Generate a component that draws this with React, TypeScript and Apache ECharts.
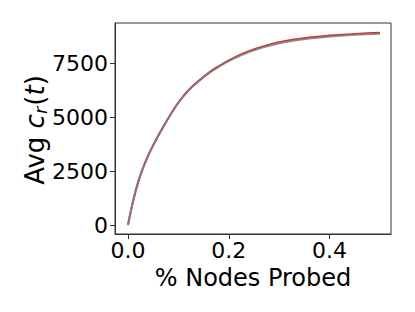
import React, { useEffect, useRef } from "react";
import * as echarts from "echarts";

const xValues = [0, 0.01, 0.02, 0.03, 0.04, 0.05, 0.06, 0.07, 0.08, 0.09, 0.1, 0.12, 0.14, 0.16, 0.18, 0.2, 0.22, 0.24, 0.27, 0.3, 0.33, 0.36, 0.4, 0.45, 0.5];
const redValues = [0, 1100, 1980, 2660, 3220, 3700, 4150, 4560, 4960, 5340, 5690, 6260, 6690, 7070, 7380, 7650, 7880, 8080, 8310, 8490, 8620, 8715, 8800, 8880, 8935];
const grayValues = [0, 1100, 1980, 2660, 3220, 3700, 4150, 4560, 4960, 5335, 5680, 6245, 6670, 7045, 7350, 7615, 7840, 8040, 8265, 8445, 8575, 8670, 8755, 8835, 8885];
const xTicks = [0, 0.2, 0.4];
const yTicks = [0, 2500, 5000, 7500];

const FONT = "DejaVu Sans";

export default function App() {
  const ref = useRef<HTMLDivElement>(null);
  useEffect(() => {
    if (!ref.current) return;
    const chart = echarts.init(ref.current, null, { renderer: "svg" });
    const axisCommon = {
      axisLine: { show: true, onZero: false, lineStyle: { color: "#333", width: 1 } },
      splitLine: { show: false },
    };
    chart.setOption({
      animation: false,
      backgroundColor: "#fff",
      grid: { left: 115, right: 24, top: 23, bottom: 78, show: true, borderColor: "#333", borderWidth: 1, backgroundColor: "transparent" },
      xAxis: {
        type: "value",
        min: -0.0258,
        max: 0.522,
        ...axisCommon,
        axisTick: { show: true, length: 5, lineStyle: { color: "#333" }, customValues: xTicks },
        axisLabel: {
          customValues: xTicks,
          formatter: (v: number) => v.toFixed(1),
          fontFamily: FONT,
          fontSize: 22,
          color: "#000",
          margin: 5,
        },
        name: "% Nodes Probed",
        nameLocation: "middle",
        nameGap: 29,
        nameTextStyle: { fontFamily: FONT, fontSize: 24, color: "#000" },
      },
      yAxis: {
        type: "value",
        min: -418,
        max: 9386,
        ...axisCommon,
        axisTick: { show: true, length: 5, lineStyle: { color: "#333" }, customValues: yTicks },
        axisLabel: {
          customValues: yTicks,
          formatter: (v: number) => String(v),
          fontFamily: FONT,
          fontSize: 22,
          color: "#000",
          margin: 7,
        },
      },
      graphic: [
        {
          type: "text",
          x: 35,
          y: 130,
          rotation: Math.PI / 2,
          style: {
            text: "{a|Avg }{i|c}{s|r}{p|(}{i|t}{p|)}",
            align: "center",
            verticalAlign: "middle",
            fill: "#000",
            rich: {
              a: { fontFamily: FONT, fontSize: 26, fill: "#000" },
              i: { fontFamily: FONT, fontSize: 26, fontStyle: "italic", fill: "#000" },
              p: { fontFamily: FONT, fontSize: 26, fill: "#000" },
              s: { fontFamily: FONT, fontSize: 18, fontStyle: "italic", fill: "#000", verticalAlign: "bottom", padding: [10, 1, 0, 0] },
            },
          },
        },
      ],
      series: [
        {
          type: "line",
          data: xValues.map((x, i) => [x, redValues[i]]),
          smooth: true,
          showSymbol: false,
          lineStyle: { color: "#e0262a", width: 2 },
          z: 2,
        },
        {
          type: "line",
          data: xValues.map((x, i) => [x, grayValues[i]]),
          smooth: true,
          showSymbol: false,
          lineStyle: { color: "#7f7f7f", width: 2, opacity: 0.85 },
          z: 3,
        },
      ],
    });
    return () => chart.dispose();
  }, []);
  return <div ref={ref} style={{ width: 415, height: 312, position: "absolute", left: 0, top: 0 }} />;
}
